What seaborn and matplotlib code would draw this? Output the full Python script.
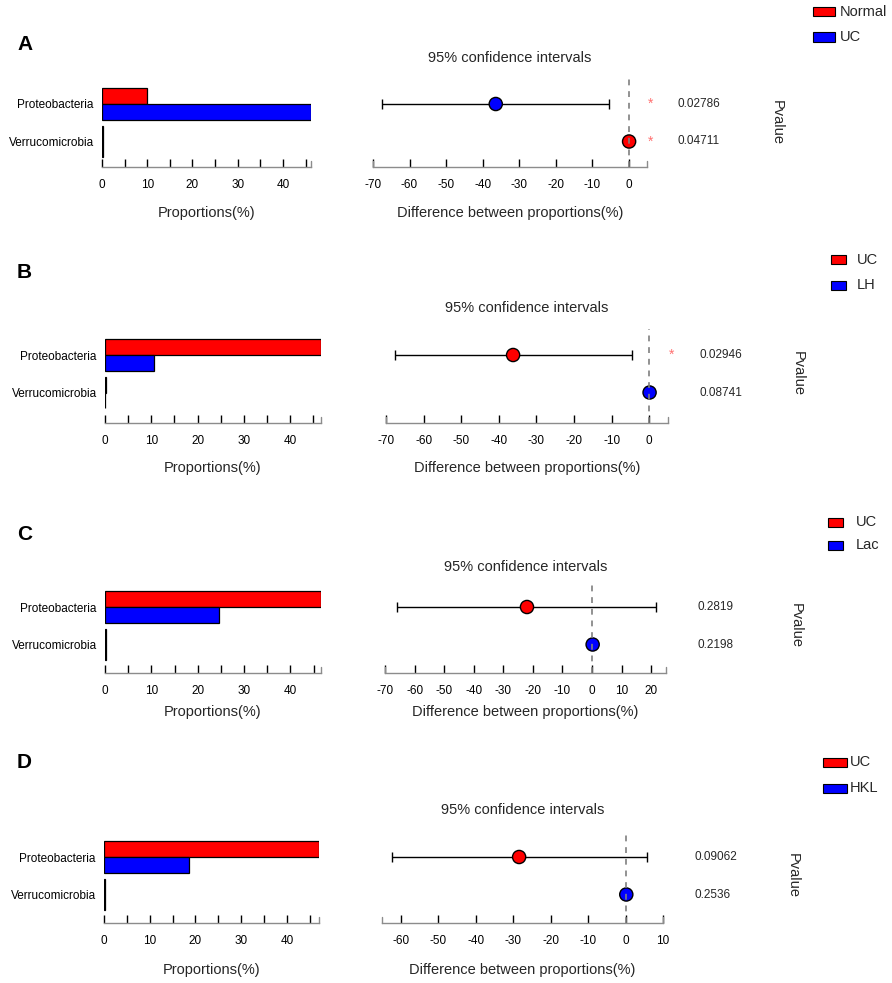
import numpy as np
import pandas as pd
import matplotlib.pyplot as plt
import seaborn as sns
from matplotlib.patches import Rectangle
from matplotlib.ticker import MultipleLocator

# ================================
# Data
# ================================

taxa = ["Proteobacteria", "Verrucomicrobia"]
letters = ["A", "B", "C", "D"]
groups = [("Normal", "UC"), ("UC", "LH"), ("UC", "Lac"), ("UC", "HKL")]

prop_first = [[10.0, 0.3], [46.7, 0.3], [46.6, 0.3], [47.0, 0.3]]
prop_second = [[46.2, 0.2], [10.5, 0.1], [24.5, 0.2], [18.5, 0.2]]

diff_mean = [[-36.4, 0.1], [-36.2, 0.1], [-22.0, 0.2], [-28.4, 0.2]]
ci_low = [[-67.5, -0.3], [-67.6, -0.3], [-66.0, -0.2], [-62.4, -0.2]]
ci_high = [[-5.5, 0.5], [-4.5, 0.5], [21.6, 0.6], [5.6, 0.6]]
dot_group = [[1, 0], [0, 1], [0, 1], [0, 1]]   # which group colour the mean dot takes

pvalues = [["0.02786", "0.04711"], ["0.02946", "0.08741"],
           ["0.2819", "0.2198"], ["0.09062", "0.2536"]]
significant = [[True, True], [True, False], [False, False], [False, False]]

prop_max = [46.2, 46.7, 46.6, 47.0]
diff_lim = [(-70, 5), (-70, 5), (-70, 25), (-65, 10)]

# ================================
# Layout (pixels)
# ================================

W, H = 892, 983
ROW = 37.5
row_top = [104, 355, 607, 857]
axis_y = [167, 423, 673, 923]
left_x = [(102, 311), (105, 321), (105, 321), (104, 319)]
right_x = [(373, 647), (386, 668), (385, 666), (382, 663)]
letter_y = [45, 273, 535, 763]
title_y = [58, 308, 567, 810]
xlabel_y = [213, 468, 712, 970]
legend_y = [(11.5, 37), (260, 285), (522, 545), (762, 788)]
legend_x = [(813, 22, 840), (831, 15, 857), (828, 15, 856), (823, 24, 850)]

RED = "#FF0000"
BLUE = "#0000FF"

sns.set_theme(style="white")
plt.rcParams['font.family'] = ['Liberation Sans', 'DejaVu Sans']
plt.rcParams['axes.unicode_minus'] = False

fig = plt.figure(figsize=(W / 100, H / 100), dpi=100, facecolor="white")


def add_ax(x0, x1, y_top, y_bot):
    return fig.add_axes([x0 / W, 1 - y_bot / H, (x1 - x0) / W, (y_bot - y_top) / H])


def style_axis(ax, height_px, caps):
    for side in ["top", "right", "left"]:
        ax.spines[side].set_visible(False)
    ax.spines["bottom"].set_color("#8c8c8c")
    ax.spines["bottom"].set_linewidth(1.0)
    ax.tick_params(axis="x", which="both", direction="in", length=6, width=1,
                   color="black", pad=9, labelsize=8.5, labelcolor="black",
                   bottom=True)
    ax.set_xlabel("")
    ax.set_ylabel("")
    for c in caps:
        ax.axvline(c, ymin=0, ymax=6 / height_px, color="#8c8c8c", lw=1, clip_on=False)


for i in range(4):
    g1, g2 = groups[i]
    top = row_top[i] - 0.7 * ROW
    bot = axis_y[i]
    y_bottom = (bot - row_top[i]) / ROW

    # ---- left: proportions bar chart ----
    ax = add_ax(left_x[i][0], left_x[i][1], top, bot)
    df = pd.DataFrame({
        "taxon": taxa * 2,
        "group": [g1] * len(taxa) + [g2] * len(taxa),
        "value": prop_first[i] + prop_second[i],
    })
    sns.barplot(data=df, x="value", y="taxon", hue="group", hue_order=[g1, g2],
                palette=[RED, BLUE], saturation=1, orient="h", width=0.83,
                edgecolor="black", linewidth=0.9, legend=False, ax=ax)
    ax.set_xlim(0, prop_max[i])
    ax.set_ylim(y_bottom, -0.7)
    ax.xaxis.set_major_locator(MultipleLocator(10))
    ax.xaxis.set_minor_locator(MultipleLocator(5))
    style_axis(ax, bot - top, [prop_max[i]])
    ax.tick_params(axis="y", length=0, pad=6, labelsize=8.5, labelcolor="black")
    fig.text(sum(left_x[i]) / 2 / W, 1 - xlabel_y[i] / H, "Proportions(%)",
             ha="center", va="center", fontsize=10.5)

    # ---- right: difference with 95% CI ----
    ax2 = add_ax(right_x[i][0], right_x[i][1], top, bot)
    rows = np.arange(len(taxa))
    mean = np.array(diff_mean[i])
    lo = np.array(ci_low[i])
    hi = np.array(ci_high[i])
    ax2.errorbar(mean, rows, xerr=[mean - lo, hi - mean], fmt="none",
                 ecolor="black", elinewidth=1, capsize=3.6, capthick=1, zorder=2)
    dots = pd.DataFrame({"diff": mean, "row": rows,
                         "group": [groups[i][k] for k in dot_group[i]]})
    sns.scatterplot(data=dots, x="diff", y="row", hue="group",
                    palette={g1: RED, g2: BLUE}, s=90, edgecolor="black",
                    linewidth=1, legend=False, zorder=3, ax=ax2)
    ax2.axvline(0, color="#7f7f7f", ls=(0, (3.5, 3.5)), lw=1.2, zorder=4)
    ax2.set_xlim(*diff_lim[i])
    ax2.set_ylim(y_bottom, -0.7)
    ax2.set_yticks([])
    ax2.xaxis.set_major_locator(MultipleLocator(10))
    style_axis(ax2, bot - top, list(diff_lim[i]))

    for r in rows:
        if significant[i][r]:
            ax2.annotate("*", xy=(1, r), xycoords=("axes fraction", "data"),
                         xytext=(4 * 0.72, 0), textcoords="offset points",
                         ha="center", va="center", color="#ff7070", fontsize=10,
                         annotation_clip=False)
        ax2.annotate(pvalues[i][r], xy=(1, r), xycoords=("axes fraction", "data"),
                     xytext=(31 * 0.72, 0), textcoords="offset points",
                     ha="left", va="center", fontsize=8.5, annotation_clip=False)
    ax2.annotate("Pvalue", xy=(1, 0.5), xycoords=("axes fraction", "data"),
                 xytext=(130 * 0.72, 0), textcoords="offset points", rotation=270,
                 ha="center", va="center", fontsize=10.5, annotation_clip=False)

    fig.text(sum(right_x[i]) / 2 / W, 1 - title_y[i] / H, "95% confidence intervals",
             ha="center", va="center", fontsize=10.5)
    fig.text(sum(right_x[i]) / 2 / W, 1 - xlabel_y[i] / H,
             "Difference between proportions(%)", ha="center", va="center",
             fontsize=10.5)

    # ---- panel letter ----
    fig.text(17 / W, 1 - letter_y[i] / H, letters[i], ha="left", va="center",
             fontsize=15, fontweight="bold", color="black")

    # ---- legend ----
    px, pw, tx = legend_x[i]
    for name, col, ly in zip(groups[i], [RED, BLUE], legend_y[i]):
        fig.patches.append(Rectangle((px / W, 1 - (ly + 4.5) / H), pw / W, 9 / H,
                                     transform=fig.transFigure, facecolor=col,
                                     edgecolor="black", linewidth=0.8))
        fig.text(tx / W, 1 - ly / H, name, ha="left", va="center", fontsize=10.5)

fig.savefig("out.png", dpi=100)
